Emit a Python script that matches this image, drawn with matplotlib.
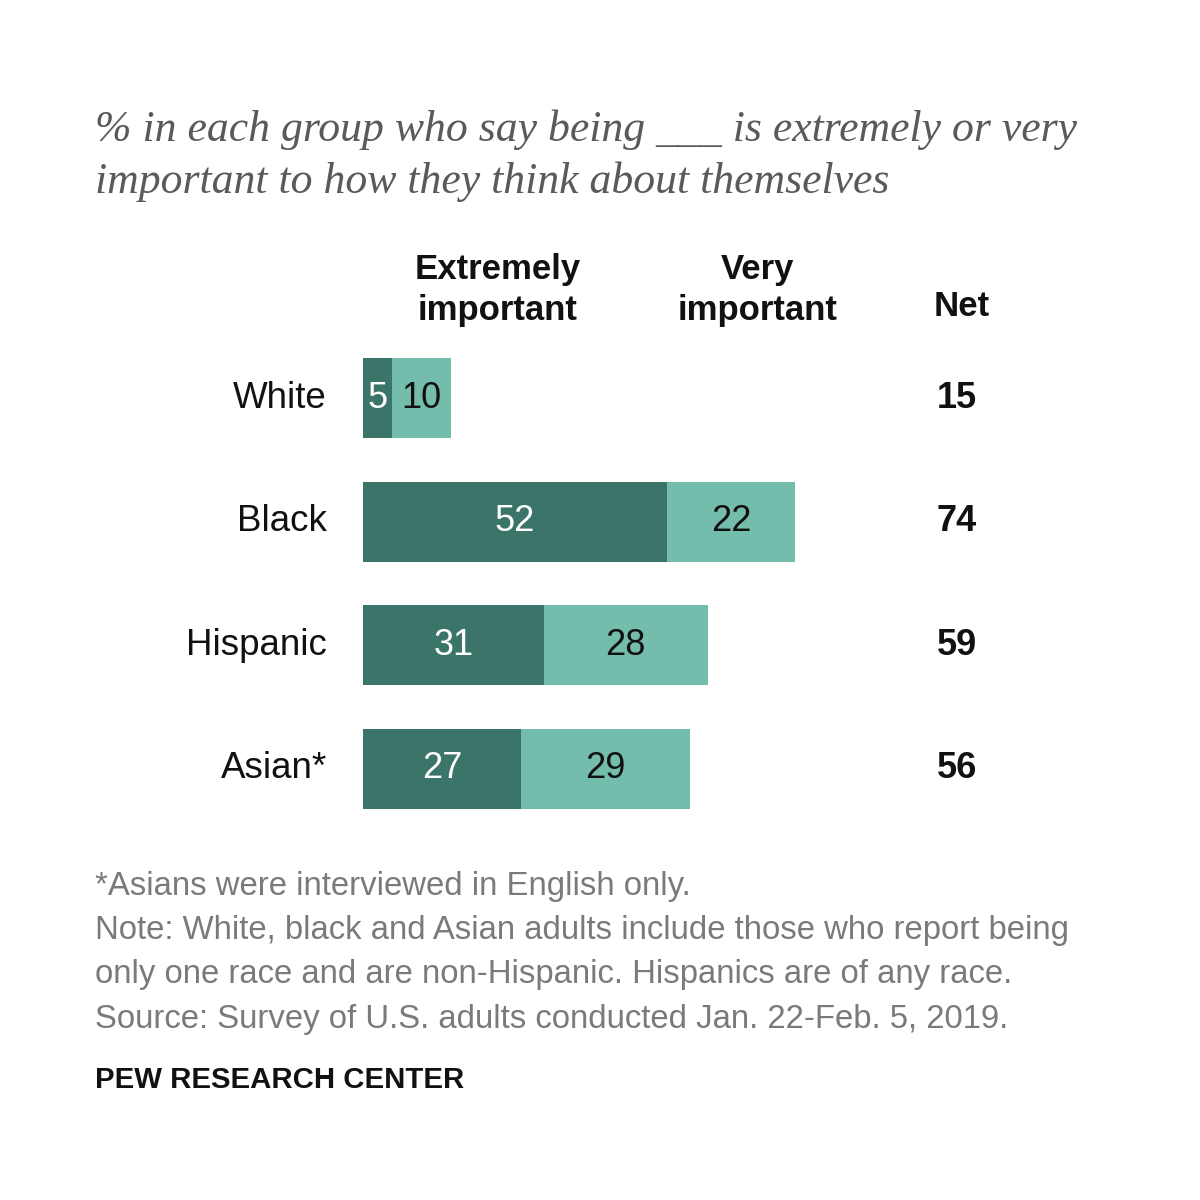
import matplotlib.pyplot as plt

# data
groups = ["White", "Black", "Hispanic", "Asian*"]
extremely = [5, 52, 31, 27]
very = [10, 22, 28, 29]
net = [15, 74, 59, 56]

title_lines = ["% in each group who say being ___ is extremely or very",
               "important to how they think about themselves"]
notes = ["*Asians were interviewed in English only.",
         "Note: White, black and Asian adults include those who report being",
         "only one race and are non-Hispanic. Hispanics are of any race.",
         "Source: Survey of U.S. adults conducted Jan. 22-Feb. 5, 2019."]

DARK = "#3b7468"
LIGHT = "#74bcab"
SANS = ["Liberation Sans", "DejaVu Sans"]

W = H = 1200
fig = plt.figure(figsize=(12, 12), dpi=100)
fig.patch.set_facecolor("white")


def fy(px):
    return 1 - px / H


def fx(px):
    return px / W


# bar axes: x from 363 px, 5.84 px per unit; rows ~123.5 px apart
scale = 5.84
xmax = 100
top_px, row_px = 336.5, 123.5
ax = fig.add_axes([fx(363), fy(top_px + 4 * row_px), fx(xmax * scale), 4 * row_px / H])
ax.set_xlim(0, xmax)
ax.set_ylim(3.5, -0.5)
ax.axis("off")

ypos = list(range(len(groups)))
ax.barh(ypos, extremely, height=0.65, color=DARK, linewidth=0)
ax.barh(ypos, very, left=extremely, height=0.65, color=LIGHT, linewidth=0)

for i in ypos:
    e, v = extremely[i], very[i]
    ax.text(e / 2, i, str(e), ha="center", va="center", color="white",
            fontsize=26, family=SANS)
    ax.text(e + v / 2, i, str(v), ha="center", va="center", color="#111111",
            fontsize=26, family=SANS)
    ax.text((957 - 363) / scale, i, str(net[i]), ha="center", va="center",
            color="#111111", fontsize=26, fontweight="bold", family=SANS)
    ax.text(-(363 - 327) / scale, i, groups[i], ha="right", va="center",
            color="#111111", fontsize=26.5, family=SANS)

# column headers
hdr = dict(ha="center", va="center", fontsize=25, fontweight="bold",
           color="#111111", family=SANS, linespacing=1.3)
fig.text(fx(498), fy(290), "Extremely\nimportant", **hdr)
fig.text(fx(758), fy(290), "Very\nimportant", **hdr)
fig.text(fx(962), fy(306), "Net", **hdr)

# title
for k, line in enumerate(title_lines):
    fig.text(fx(95), fy(130 + 52 * k), line, ha="left", va="center",
             fontsize=31.5, style="italic", color="#5a5a5a",
             family=["Liberation Serif", "DejaVu Serif"])

# notes
for k, line in enumerate(notes):
    fig.text(fx(95), fy(886 + 44.5 * k), line, ha="left", va="center",
             fontsize=23.7, color="#7a7a7a", family=SANS)

fig.text(fx(95), fy(1080), "PEW RESEARCH CENTER", ha="left", va="center",
         fontsize=21.2, fontweight="bold", color="#111111", family=SANS)

fig.savefig("out.png", dpi=100)
